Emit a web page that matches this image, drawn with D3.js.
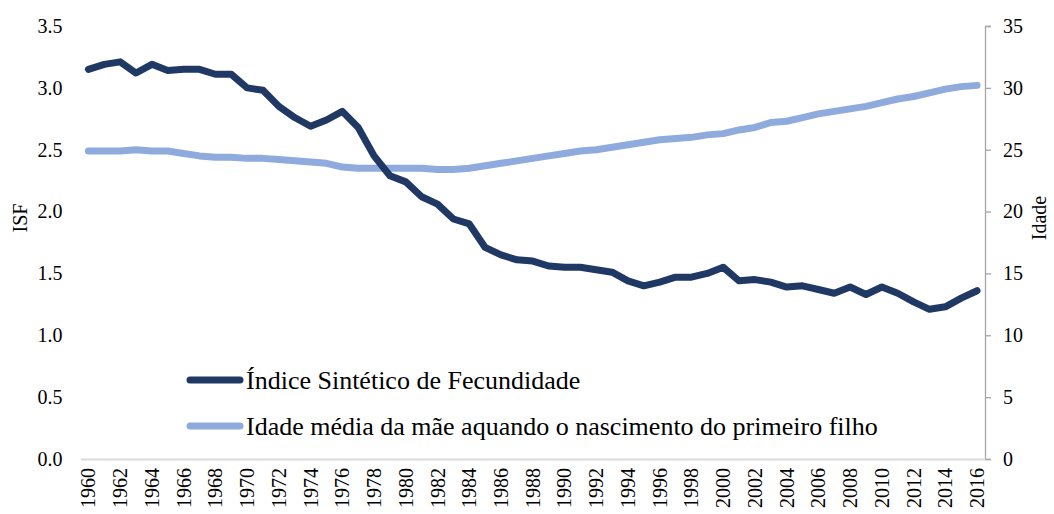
<!DOCTYPE html>
<html>
<head>
<meta charset="utf-8">
<script src="https://cdn.jsdelivr.net/npm/d3@7"></script>
<style>
  body { margin: 0; background: #fff; }
</style>
</head>
<body>
<div id="chart"></div>
<script>
// anos 1960-2016
var anos = d3.range(1960, 2017);
var isf = [3.15, 3.19, 3.21, 3.12, 3.19, 3.14, 3.15, 3.15, 3.11, 3.11,
           3.00, 2.98, 2.85, 2.76, 2.69, 2.74, 2.81, 2.68, 2.45, 2.29,
           2.24, 2.12, 2.06, 1.94, 1.90, 1.71, 1.65, 1.61, 1.60, 1.56,
           1.55, 1.55, 1.53, 1.51, 1.44, 1.40, 1.43, 1.47, 1.47, 1.50,
           1.55, 1.44, 1.45, 1.43, 1.39, 1.40, 1.37, 1.34, 1.39, 1.33,
           1.39, 1.34, 1.27, 1.21, 1.23, 1.30, 1.36];
var idade = [24.9, 24.9, 24.9, 25.0, 24.9, 24.9, 24.7, 24.5, 24.4, 24.4,
             24.3, 24.3, 24.2, 24.1, 24.0, 23.9, 23.6, 23.5, 23.5, 23.5,
             23.5, 23.5, 23.4, 23.4, 23.5, 23.7, 23.9, 24.1, 24.3, 24.5,
             24.7, 24.9, 25.0, 25.2, 25.4, 25.6, 25.8, 25.9, 26.0, 26.2,
             26.3, 26.6, 26.8, 27.2, 27.3, 27.6, 27.9, 28.1, 28.3, 28.5,
             28.8, 29.1, 29.3, 29.6, 29.9, 30.1, 30.2];
var ticksEsq = [0, 0.5, 1, 1.5, 2, 2.5, 3, 3.5];
var ticksDir = [0, 5, 10, 15, 20, 25, 30, 35];
var nomes = ["Índice Sintético de Fecundidade",
             "Idade média da mãe aquando o nascimento do primeiro filho"];
var cores = ["#203864", "#8FAADC"];

var fonte = "'Liberation Serif', 'Times New Roman', Times, serif";
var width = 1054, height = 514;
var margin = {top: 26, right: 69, bottom: 55, left: 80.5};

var svg = d3.select("#chart").append("svg")
    .attr("width", width)
    .attr("height", height)
    .style("font-family", fonte);

var x = d3.scaleBand()
    .domain(anos)
    .range([margin.left, width - margin.right]);
var yL = d3.scaleLinear().domain([0, 3.5]).range([height - margin.bottom, margin.top]);
var yR = d3.scaleLinear().domain([0, 35]).range([height - margin.bottom, margin.top]);
var cx = function(i){ return x(anos[i]) + x.bandwidth() / 2; };

// eixo esquerdo (so etiquetas)
var gL = svg.append("g")
    .attr("transform", "translate(" + margin.left + ",0)")
    .call(d3.axisLeft(yL).tickValues(ticksEsq).tickFormat(d3.format(".1f")).tickSize(0).tickPadding(18));
gL.select(".domain").remove();

// eixo direito
var gR = svg.append("g")
    .attr("transform", "translate(" + (width - margin.right) + ",0)")
    .call(d3.axisRight(yR).tickValues(ticksDir).tickSize(6).tickSizeOuter(6).tickPadding(12));
gR.select(".domain").attr("stroke", "#A6A6A6").attr("stroke-width", 1.3);
gR.selectAll(".tick line").attr("stroke", "#A6A6A6").attr("stroke-width", 1.3);

// eixo x
var gX = svg.append("g")
    .attr("transform", "translate(0," + (height - margin.bottom) + ")")
    .call(d3.axisBottom(x).tickValues(anos.filter(function(d){ return d % 2 == 0; })).tickSize(0).tickSizeOuter(0));
gX.select(".domain").attr("stroke", "#D9D9D9").attr("stroke-width", 2);
gX.selectAll("text")
    .attr("text-anchor", "end")
    .attr("dy", "0.35em")
    .attr("transform", "translate(0,9) rotate(-90)")
    .attr("x", 0).attr("y", 0);

svg.selectAll("g text")
    .attr("font-family", null)
    .style("font-family", fonte)
    .style("font-size", "20px")
    .attr("fill", "#000");

// titulos dos eixos
var meio = 218;
svg.append("text")
    .attr("transform", "translate(27," + meio + ") rotate(-90)")
    .attr("text-anchor", "middle")
    .style("font-size", "20px")
    .text("ISF");
svg.append("text")
    .attr("transform", "translate(1046," + meio + ") rotate(-90)")
    .attr("text-anchor", "middle")
    .style("font-size", "20px")
    .text("Idade");

// linhas
var lineL = d3.line().x(function(d, i){ return cx(i); }).y(function(d){ return yL(d); });
var lineR = d3.line().x(function(d, i){ return cx(i); }).y(function(d){ return yR(d); });

svg.append("path")
    .datum(idade)
    .attr("fill", "none")
    .attr("stroke", cores[1])
    .attr("stroke-width", 7)
    .attr("stroke-linecap", "round")
    .attr("stroke-linejoin", "round")
    .attr("d", lineR);
svg.append("path")
    .datum(isf)
    .attr("fill", "none")
    .attr("stroke", cores[0])
    .attr("stroke-width", 7)
    .attr("stroke-linecap", "round")
    .attr("stroke-linejoin", "round")
    .attr("d", lineL);

// legenda
var leg = svg.append("g");
nomes.forEach(function(n, i){
    var yy = 380 + i * 46;
    leg.append("line")
        .attr("x1", 190).attr("x2", 240)
        .attr("y1", yy).attr("y2", yy)
        .attr("stroke", cores[i])
        .attr("stroke-width", 7)
        .attr("stroke-linecap", "round");
    leg.append("text")
        .attr("x", 246).attr("y", yy)
        .attr("dy", "0.35em")
        .style("font-family", fonte)
        .style("font-size", "26px")
        .text(n);
});
</script>
</body>
</html>
